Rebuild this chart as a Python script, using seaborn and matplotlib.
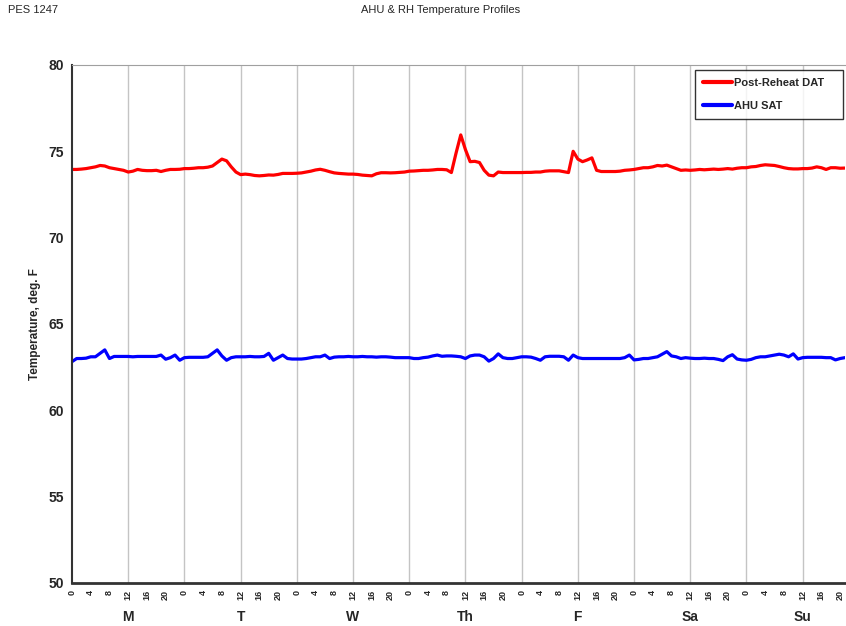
import numpy as np
import pandas as pd
import seaborn as sns
import matplotlib.pyplot as plt

# hourly readings, one list per day (Sunday ends at hour 21)
days = ['M', 'T', 'W', 'Th', 'F', 'Sa', 'Su']

reheat_M = [73.95, 73.95, 73.97, 74.0, 74.05, 74.1, 74.18, 74.15, 74.05, 74.0, 73.95, 73.9,
            73.8, 73.85, 73.95, 73.9, 73.88, 73.88, 73.9, 73.83, 73.9, 73.95, 73.95, 73.96]
reheat_T = [74.0, 74.0, 74.02, 74.05, 74.05, 74.08, 74.15, 74.35, 74.55, 74.45, 74.1, 73.8,
            73.65, 73.68, 73.65, 73.6, 73.58, 73.6, 73.63, 73.62, 73.66, 73.72, 73.72, 73.72]
reheat_W = [73.73, 73.75, 73.8, 73.85, 73.92, 73.96, 73.9, 73.82, 73.75, 73.72, 73.7, 73.68,
            73.68, 73.66, 73.62, 73.6, 73.58, 73.7, 73.76, 73.76, 73.75, 73.76, 73.78, 73.8]
reheat_Th = [73.85, 73.86, 73.88, 73.9, 73.9, 73.92, 73.95, 73.95, 73.93, 73.77, 74.9, 75.95,
             75.1, 74.4, 74.42, 74.35, 73.9, 73.62, 73.58, 73.8, 73.77, 73.77, 73.77, 73.77]
reheat_F = [73.77, 73.78, 73.78, 73.8, 73.8, 73.85, 73.87, 73.87, 73.87, 73.82, 73.77, 75.0,
            74.55, 74.4, 74.5, 74.62, 73.9, 73.83, 73.83, 73.83, 73.83, 73.85, 73.9, 73.92]
reheat_Sa = [73.95, 74.0, 74.05, 74.05, 74.1, 74.18, 74.15, 74.2, 74.1, 74.0, 73.9, 73.92,
             73.9, 73.92, 73.95, 73.93, 73.95, 73.97, 73.95, 73.97, 74.0, 73.97, 74.02, 74.05]
reheat_Su = [74.05, 74.1, 74.12, 74.18, 74.22, 74.2, 74.18, 74.12, 74.05, 74.0, 73.98, 73.98,
             74.0, 74.0, 74.03, 74.1, 74.05, 73.95, 74.05, 74.05, 74.02, 74.03]

sat_M = [62.82, 63.0, 63.0, 63.02, 63.1, 63.1, 63.3, 63.5, 63.0, 63.12, 63.12, 63.12,
         63.12, 63.1, 63.12, 63.12, 63.12, 63.12, 63.12, 63.2, 62.96, 63.05, 63.2, 62.9]
sat_T = [63.05, 63.07, 63.07, 63.07, 63.07, 63.1, 63.3, 63.5, 63.15, 62.9, 63.05, 63.1,
         63.1, 63.1, 63.12, 63.1, 63.1, 63.12, 63.3, 62.9, 63.05, 63.2, 63.0, 62.97]
sat_W = [62.97, 62.97, 63.0, 63.05, 63.1, 63.1, 63.2, 63.0, 63.08, 63.1, 63.1, 63.12,
         63.1, 63.1, 63.12, 63.1, 63.1, 63.08, 63.1, 63.1, 63.08, 63.05, 63.05, 63.05]
sat_Th = [63.05, 63.0, 63.0, 63.05, 63.08, 63.15, 63.2, 63.13, 63.15, 63.15, 63.13, 63.1,
          63.0, 63.15, 63.2, 63.2, 63.1, 62.85, 63.0, 63.27, 63.05, 63.0, 63.0, 63.05]
sat_F = [63.1, 63.1, 63.08, 63.0, 62.9, 63.1, 63.13, 63.13, 63.13, 63.1, 62.9, 63.2,
         63.05, 63.0, 63.0, 63.0, 63.0, 63.0, 63.0, 63.0, 63.0, 63.0, 63.05, 63.2]
sat_Sa = [62.92, 62.95, 63.0, 63.0, 63.05, 63.1, 63.25, 63.4, 63.15, 63.1, 63.0, 63.05,
          63.02, 63.0, 63.0, 63.02, 63.0, 63.0, 62.95, 62.88, 63.1, 63.22, 62.97, 62.92]
sat_Su = [62.9, 62.95, 63.05, 63.1, 63.1, 63.15, 63.2, 63.25, 63.2, 63.1, 63.27, 62.97,
          63.05, 63.07, 63.07, 63.07, 63.07, 63.05, 63.05, 62.92, 63.0, 63.05]

reheat = reheat_M + reheat_T + reheat_W + reheat_Th + reheat_F + reheat_Sa + reheat_Su
sat = sat_M + sat_T + sat_W + sat_Th + sat_F + sat_Sa + sat_Su
hours = np.arange(len(reheat))

df = pd.concat([
    pd.DataFrame({'hour': hours, 'temp': reheat, 'series': 'Post-Reheat DAT'}),
    pd.DataFrame({'hour': hours, 'temp': sat, 'series': 'AHU SAT'}),
])

sns.set_style('white')
plt.rcParams['font.family'] = ['Liberation Sans', 'DejaVu Sans']

fig = plt.figure(figsize=(8.46, 6.26), dpi=100)
ax = fig.add_axes([0.0851, 0.0687, 0.9135, 0.8275])

sns.lineplot(data=df, x='hour', y='temp', hue='series',
             palette={'Post-Reheat DAT': '#ff0000', 'AHU SAT': '#0000ff'},
             linewidth=2.3, ax=ax)

ax.set_xlim(0, 165)
ax.set_ylim(50, 80)

# vertical grid every 12 hours
for h in range(12, 166, 12):
    ax.axvline(h, color='#c4c4c4', lw=1, zorder=0)

ax.set_xticks(range(0, 166, 4))
ax.set_xticklabels([str(h % 24) for h in range(0, 166, 4)], rotation=90,
                   fontsize=6.5, fontweight='bold')
ax.set_yticks(range(50, 81, 5))
ax.set_yticklabels([str(v) for v in range(50, 81, 5)], fontsize=10, fontweight='bold')
ax.tick_params(axis='both', direction='out', length=4, width=1, color='#333333', pad=2)
ax.tick_params(axis='x', length=3)

for i, d in enumerate(days):
    ax.text(i * 24 + 12, -0.066, d, transform=ax.get_xaxis_transform(),
            ha='center', va='center', fontsize=10, fontweight='bold')

ax.set_xlabel('')
ax.set_ylabel('Temperature, deg. F', fontsize=8.5, fontweight='bold', labelpad=5)

ax.spines['right'].set_visible(False)
ax.spines['top'].set_color('#a0a0a0')
ax.spines['left'].set_color('#333333')
ax.spines['left'].set_linewidth(1.5)
ax.spines['bottom'].set_color('#333333')
ax.spines['bottom'].set_linewidth(2)

leg = ax.legend(loc='upper left', bbox_to_anchor=(0.806, 0.99, 0.192, 0), mode='expand',
                frameon=True, fancybox=False, prop={'weight': 'bold', 'size': 8},
                handlelength=2.6, handletextpad=0.25, borderpad=0.7,
                labelspacing=1.2, borderaxespad=0)
leg.get_frame().set_edgecolor('black')
leg.get_frame().set_linewidth(1)
for line in leg.get_lines():
    line.set_linewidth(3)

fig.text(0.009, 0.984, 'PES 1247', fontsize=8, ha='left', va='center')
fig.text(0.521, 0.984, 'AHU & RH Temperature Profiles', fontsize=8, ha='center', va='center')

fig.savefig('out.png', dpi=100)
